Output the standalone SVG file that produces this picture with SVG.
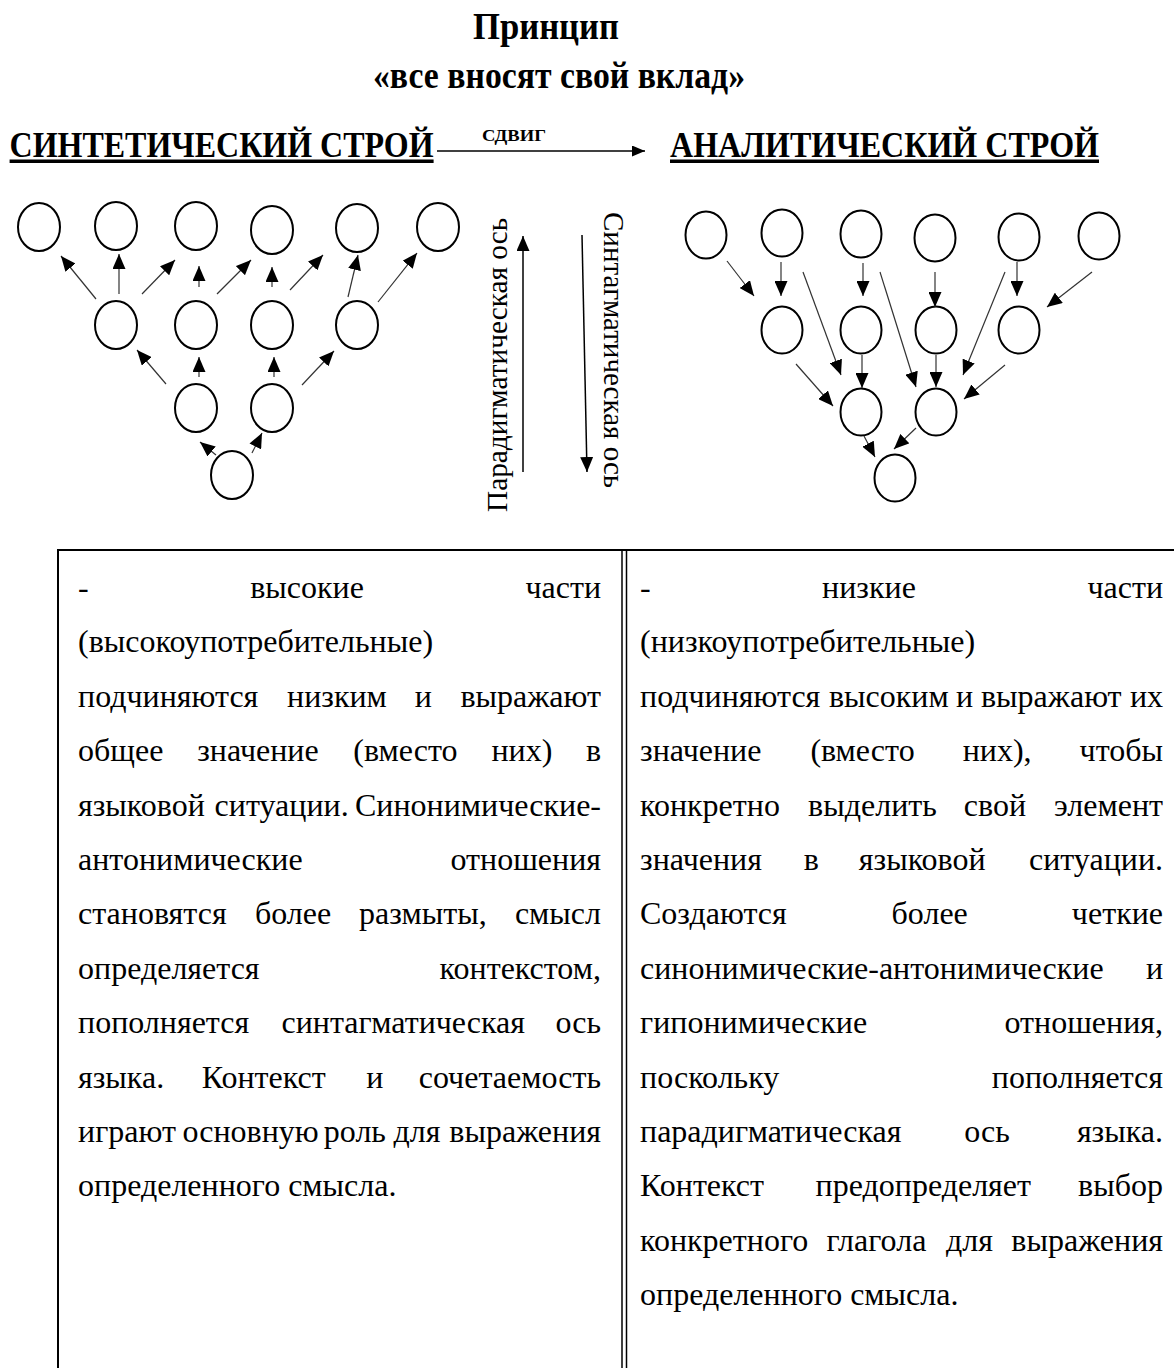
<svg xmlns="http://www.w3.org/2000/svg" width="1174" height="1368" viewBox="0 0 1174 1368">
<style>
.t{font-family:"Liberation Serif","Times New Roman",serif;fill:#000}
.b{font-weight:bold}
.h{font-size:36px;font-weight:bold}
.p{font-size:32px}
.ax{font-size:30px}
.n{fill:#fff;stroke:#000;stroke-width:2}
.c{stroke:#333;stroke-width:1.2;fill:none;marker-end:url(#ah)}
.ca{stroke:#000;stroke-width:1.5;fill:none;marker-end:url(#ah)}
.g{stroke:#000;stroke-width:2;fill:none}
.g2{stroke:#000;stroke-width:1.5;fill:none}
.e{text-anchor:end}
.m{text-anchor:middle}
</style>
<defs>
<marker id="ah" viewBox="0 0 15 13" refX="15" refY="6.5" markerWidth="15" markerHeight="13" markerUnits="userSpaceOnUse" orient="auto">
<path d="M0,0 L15,6.5 L0,13 z" fill="#000"/>
</marker>
<marker id="ah2" viewBox="0 0 13 11" refX="13" refY="5.5" markerWidth="13" markerHeight="11" markerUnits="userSpaceOnUse" orient="auto">
<path d="M0,0 L13,5.5 L0,11 z" fill="#000"/>
</marker>
</defs>
<rect width="1174" height="1368" fill="#fff"/>

<g id="title">
<text class="t b" x="473" y="39" font-size="38" textLength="146" lengthAdjust="spacingAndGlyphs">Принцип</text>
<text class="t b" x="373" y="88" font-size="37" textLength="372" lengthAdjust="spacingAndGlyphs">«все вносят свой вклад»</text>
</g>

<g id="synthetic-label">
<text class="t h" x="9.6" y="157" textLength="424" lengthAdjust="spacingAndGlyphs">СИНТЕТИЧЕСКИЙ СТРОЙ</text>
<rect x="9.6" y="159.5" width="424" height="3.5" fill="#000"/>
</g>
<g id="analytic-label">
<text class="t h" x="670" y="157" textLength="429" lengthAdjust="spacingAndGlyphs">АНАЛИТИЧЕСКИЙ СТРОЙ</text>
<rect x="670" y="159.5" width="429" height="3.5" fill="#000"/>
</g>

<g id="left-tree">
<ellipse id="L1" class="n" cx="39" cy="227" rx="21" ry="24"/>
<ellipse id="L2" class="n" cx="116" cy="226" rx="21" ry="24"/>
<ellipse id="L3" class="n" cx="196" cy="226" rx="21" ry="24"/>
<ellipse id="L4" class="n" cx="272" cy="230" rx="21" ry="24"/>
<ellipse id="L5" class="n" cx="357" cy="228" rx="21" ry="24"/>
<ellipse id="L6" class="n" cx="438" cy="227" rx="21" ry="24"/>
<ellipse id="La" class="n" cx="116" cy="325" rx="21" ry="24"/>
<ellipse id="Lb" class="n" cx="196" cy="325" rx="21" ry="24"/>
<ellipse id="Lc" class="n" cx="272" cy="325" rx="21" ry="24"/>
<ellipse id="Ld" class="n" cx="357" cy="325" rx="21" ry="24"/>
<ellipse id="Le" class="n" cx="196" cy="408" rx="21" ry="24"/>
<ellipse id="Lf" class="n" cx="272" cy="408" rx="21" ry="24"/>
<ellipse id="Lg" class="n" cx="232" cy="475" rx="21" ry="24"/>
</g>

<g id="right-tree">
<ellipse id="R1" class="n" cx="706" cy="235" rx="20.5" ry="23.5"/>
<ellipse id="R2" class="n" cx="782" cy="233" rx="20.5" ry="23.5"/>
<ellipse id="R3" class="n" cx="861" cy="234" rx="20.5" ry="23.5"/>
<ellipse id="R4" class="n" cx="935" cy="238" rx="20.5" ry="23.5"/>
<ellipse id="R5" class="n" cx="1019" cy="237" rx="20.5" ry="23.5"/>
<ellipse id="R6" class="n" cx="1099" cy="236" rx="20.5" ry="23.5"/>
<ellipse id="Ra" class="n" cx="782" cy="330" rx="20.5" ry="23.5"/>
<ellipse id="Rb" class="n" cx="861" cy="330" rx="20.5" ry="23.5"/>
<ellipse id="Rc" class="n" cx="936" cy="330" rx="20.5" ry="23.5"/>
<ellipse id="Rd" class="n" cx="1019" cy="330" rx="20.5" ry="23.5"/>
<ellipse id="Re" class="n" cx="861" cy="412" rx="20.5" ry="23.5"/>
<ellipse id="Rf" class="n" cx="936" cy="412" rx="20.5" ry="23.5"/>
<ellipse id="Rg" class="n" cx="895" cy="478" rx="20.5" ry="23.5"/>
</g>

<g id="axis-labels">
<text class="t ax m" transform="translate(507,365) rotate(-90)" textLength="294" lengthAdjust="spacingAndGlyphs">Парадигматическая ось</text>
<text class="t ax m" transform="translate(604,350) rotate(90)" textLength="276" lengthAdjust="spacingAndGlyphs">Синтагматическая ось</text>
</g>

<g id="shift-label">
<text class="t b" x="482" y="141" font-size="17" textLength="64" lengthAdjust="spacingAndGlyphs">СДВИГ</text>
</g>

<g id="connectors">
<path class="ca" d="M437,151 L645,151" style="marker-end:url(#ah2)"/>
<path class="ca" d="M523,472 L523,236"/>
<path class="ca" d="M582,235 L587,472"/>
<path class="c" d="M96,299 L61,256"/>
<path class="c" d="M119,294 L119,254"/>
<path class="c" d="M142,294 L175,260"/>
<path class="c" d="M199,287 L199,266"/>
<path class="c" d="M217,294 L251,260"/>
<path class="c" d="M272,287 L272,267"/>
<path class="c" d="M290,290 L323,255"/>
<path class="c" d="M348,297 L358,255"/>
<path class="c" d="M378,302 L417,253"/>
<path class="c" d="M166,384 L137,350"/>
<path class="c" d="M199,377 L199,357"/>
<path class="c" d="M274,377 L274,357"/>
<path class="c" d="M302,385 L334,351"/>
<path class="c" d="M216,455 L200,442"/>
<path class="c" d="M252,453 L262,433"/>
<path class="c" d="M727,261 L754,296"/>
<path class="c" d="M781,262 L781,296"/>
<path class="c" d="M803,272 L841,375"/>
<path class="c" d="M863,263 L863,296"/>
<path class="c" d="M880,272 L916,387"/>
<path class="c" d="M935,272 L935,307"/>
<path class="c" d="M1005,272 L963,375"/>
<path class="c" d="M1017,262 L1017,296"/>
<path class="c" d="M1092,272 L1047,307"/>
<path class="c" d="M796,364 L833,406"/>
<path class="c" d="M862,355 L862,388"/>
<path class="c" d="M936,355 L936,387"/>
<path class="c" d="M1005,365 L964,399"/>
<path class="c" d="M864,436 L875,457"/>
<path class="c" d="M916,428 L894,449"/>
</g>

<g id="table-frame">
<path class="g" d="M57,550 L1174,550"/>
<path class="g" d="M58,549 L58,1368"/>
<path class="g2" d="M622,549 L622,1368"/>
<path class="g2" d="M626.5,549 L626.5,1368"/>
</g>

<g id="left-cell" class="t p">
<text x="78" y="598">-</text><text class="m" x="307" y="598">высокие</text><text class="e" x="601" y="598">части</text>
<text x="78" y="652.4">(высокоупотребительные)</text>
<text x="78" y="706.8">подчиняются</text><text x="287" y="706.8">низким</text><text x="414.7" y="706.8">и</text><text class="e" x="601" y="706.8">выражают</text>
<text x="78" y="761.2">общее</text><text x="197.2" y="761.2">значение</text><text x="353.3" y="761.2">(вместо</text><text x="491.4" y="761.2">них)</text><text class="e" x="601" y="761.2">в</text>
<text x="78" y="815.6">языковой</text><text x="214.6" y="815.6">ситуации.</text><text class="e" x="601" y="815.6">Синонимические-</text>
<text x="78" y="870">антонимические</text><text class="e" x="601" y="870">отношения</text>
<text x="78" y="924.4">становятся</text><text x="255" y="924.4">более</text><text x="359.1" y="924.4">размыты,</text><text class="e" x="601" y="924.4">смысл</text>
<text x="78" y="978.8">определяется</text><text class="e" x="601" y="978.8">контекстом,</text>
<text x="78" y="1033.2">пополняется</text><text x="281.5" y="1033.2">синтагматическая</text><text class="e" x="601" y="1033.2">ось</text>
<text x="78" y="1087.6">языка.</text><text x="201.7" y="1087.6">Контекст</text><text x="366.3" y="1087.6">и</text><text class="e" x="601" y="1087.6">сочетаемость</text>
<text x="78" y="1142">играют</text><text x="182.4" y="1142">основную</text><text x="323.8" y="1142">роль</text><text x="393.5" y="1142">для</text><text class="e" x="601" y="1142">выражения</text>
<text x="78" y="1196.4">определенного смысла.</text>
</g>

<g id="right-cell" class="t p">
<text x="640" y="598">-</text><text class="m" x="869" y="598">низкие</text><text class="e" x="1163" y="598">части</text>
<text x="640" y="652.4">(низкоупотребительные)</text>
<text x="640" y="706.8">подчиняются</text><text x="828.9" y="706.8">высоким</text><text x="956.1" y="706.8">и</text><text x="981" y="706.8">выражают</text><text class="e" x="1163" y="706.8">их</text>
<text x="640" y="761.2">значение</text><text x="810.4" y="761.2">(вместо</text><text x="962.7" y="761.2">них),</text><text class="e" x="1163" y="761.2">чтобы</text>
<text x="640" y="815.6">конкретно</text><text x="808.1" y="815.6">выделить</text><text x="963.8" y="815.6">свой</text><text class="e" x="1163" y="815.6">элемент</text>
<text x="640" y="870">значения</text><text x="803.7" y="870">в</text><text x="858.8" y="870">языковой</text><text class="e" x="1163" y="870">ситуации.</text>
<text x="640" y="924.4">Создаются</text><text class="m" x="929.7" y="924.4">более</text><text class="e" x="1163" y="924.4">четкие</text>
<text x="640" y="978.8">синонимические-антонимические</text><text class="e" x="1163" y="978.8">и</text>
<text x="640" y="1033.2">гипонимические</text><text class="e" x="1163" y="1033.2">отношения,</text>
<text x="640" y="1087.6">поскольку</text><text class="e" x="1163" y="1087.6">пополняется</text>
<text x="640" y="1142">парадигматическая</text><text class="m" x="987" y="1142">ось</text><text class="e" x="1163" y="1142">языка.</text>
<text x="640" y="1196.4">Контекст</text><text class="m" x="923.3" y="1196.4">предопределяет</text><text class="e" x="1163" y="1196.4">выбор</text>
<text x="640" y="1250.8">конкретного</text><text x="826.6" y="1250.8">глагола</text><text x="946" y="1250.8">для</text><text class="e" x="1163" y="1250.8">выражения</text>
<text x="640" y="1305.2">определенного смысла.</text>
</g>
</svg>
